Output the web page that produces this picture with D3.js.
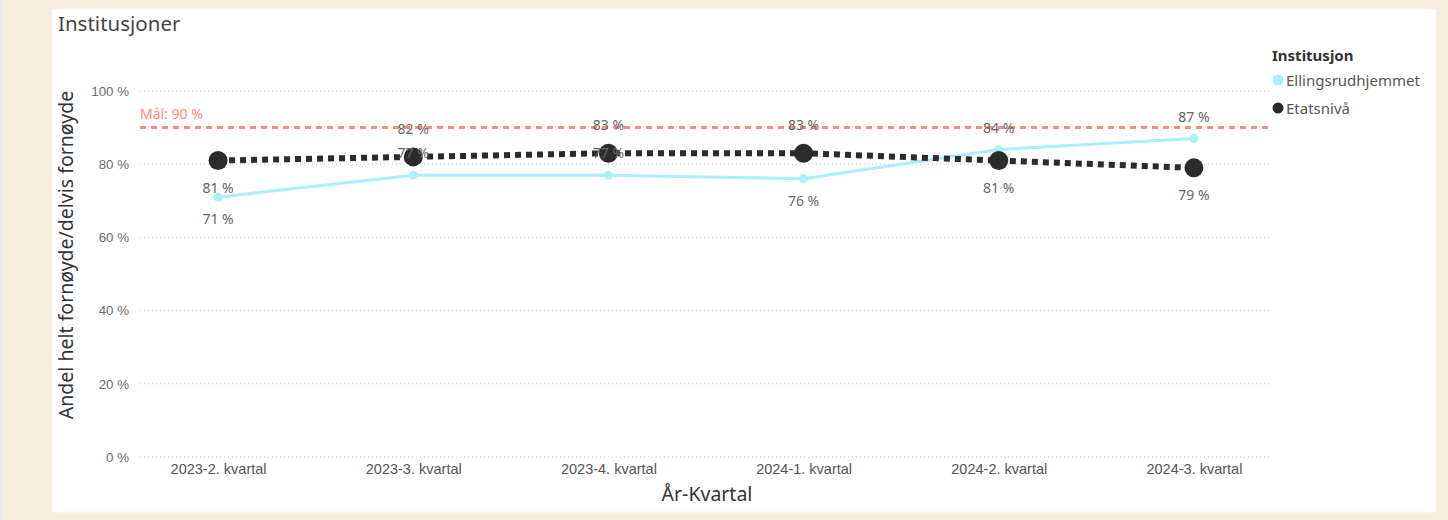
<!DOCTYPE html>
<html>
<head>
<meta charset="utf-8">
<script src="https://cdn.jsdelivr.net/npm/d3@7/dist/d3.min.js"></script>
<style>
  html, body { margin: 0; padding: 0; background: #f6eedc; }
  svg { display: block; font-family: "Segoe UI", "Noto Sans", sans-serif; }
</style>
</head>
<body>
<div id="chart"></div>
<script>
// data
const quarters = ['2023-2. kvartal', '2023-3. kvartal', '2023-4. kvartal', '2024-1. kvartal', '2024-2. kvartal', '2024-3. kvartal'];
const ellingsrud = [71, 77, 77, 76, 84, 87];
const etatsniva = [81, 82, 83, 83, 81, 79];
const seriesNames = ['Ellingsrudhjemmet', 'Etatsnivå'];
const yTicks = [0, 20, 40, 60, 80, 100];
const goal = 90;
// label placement per point (1 = above, -1 = below)
const ellingsrudSide = [-1, 1, 1, -1, 1, 1];
const etatsSide = [-1, 1, 1, 1, -1, -1];

const W = 1448, H = 520;
const svg = d3.select('#chart').append('svg').attr('width', W).attr('height', H);

// page background + card
svg.append('rect').attr('x', 0).attr('y', 0).attr('width', W).attr('height', H).attr('fill', '#f6eedc');
svg.append('rect').attr('x', 0).attr('y', 0).attr('width', 3).attr('height', H).attr('fill', '#ebebeb');
svg.append('rect').attr('x', 52).attr('y', 9).attr('width', 1384).attr('height', 503)
  .attr('fill', '#ffffff').attr('stroke', '#faf7f0').attr('stroke-width', 1);

svg.append('text').attr('x', 58).attr('y', 31)
  .attr('font-size', 20.5).attr('fill', '#444').text('Institusjoner');

const x = d3.scalePoint().domain(quarters).range([140, 1272]).padding(0.4);
const y = d3.scaleLinear().domain([0, 100]).range([457, 91]);

// grid
svg.append('g').selectAll('line').data(yTicks).join('line')
  .attr('x1', 140).attr('x2', 1272)
  .attr('y1', d => y(d)).attr('y2', d => y(d))
  .attr('stroke', '#c8c8c8').attr('stroke-width', 1).attr('stroke-dasharray', '1,3');

// y axis
const yAxis = svg.append('g').attr('transform', 'translate(129,0)')
  .call(d3.axisLeft(y).tickValues(yTicks).tickSize(0).tickPadding(0).tickFormat(d => d + ' %'));
yAxis.select('.domain').remove();
yAxis.selectAll('text').attr('font-size', 13.3).attr('fill', '#6b6b6b').attr('font-family', null);

// x axis
const xAxis = svg.append('g').attr('transform', 'translate(0,457)')
  .call(d3.axisBottom(x).tickSize(0).tickPadding(7));
xAxis.select('.domain').remove();
xAxis.selectAll('text').attr('font-size', 14.5).attr('fill', '#555').attr('font-family', null);

// axis titles
svg.append('text').attr('transform', 'translate(73,255) rotate(-90)')
  .attr('text-anchor', 'middle').attr('font-size', 19.5).attr('fill', '#333')
  .text('Andel helt fornøyde/delvis fornøyde');
svg.append('text').attr('x', 707).attr('y', 501)
  .attr('text-anchor', 'middle').attr('font-size', 19.5).attr('fill', '#333')
  .text('År-Kvartal');

// goal line
svg.append('line').attr('x1', 140).attr('x2', 1272)
  .attr('y1', y(goal)).attr('y2', y(goal))
  .attr('stroke', '#fd8a80').attr('stroke-width', 3).attr('stroke-dasharray', '6,5');
svg.append('text').attr('x', 140).attr('y', y(goal) - 9)
  .attr('font-size', 14).attr('fill', '#fd8a80').text('Mål: ' + goal + ' %');

const line = d3.line().x((d, i) => x(quarters[i])).y(d => y(d));

// Ellingsrudhjemmet
svg.append('path').datum(ellingsrud).attr('d', line)
  .attr('fill', 'none').attr('stroke', '#a9effc').attr('stroke-width', 3);
svg.append('g').selectAll('circle').data(ellingsrud).join('circle')
  .attr('cx', (d, i) => x(quarters[i])).attr('cy', d => y(d)).attr('r', 4.5)
  .attr('fill', '#a9effc');

// Etatsnivå
svg.append('path').datum(etatsniva).attr('d', line)
  .attr('fill', 'none').attr('stroke', '#2b2b2b').attr('stroke-width', 6).attr('stroke-dasharray', '6,5');
svg.append('g').selectAll('circle').data(etatsniva).join('circle')
  .attr('cx', (d, i) => x(quarters[i])).attr('cy', d => y(d)).attr('r', 9.5)
  .attr('fill', '#2b2b2b');

// data labels
function labels(values, sides, offAbove, offBelow) {
  svg.append('g').selectAll('text').data(values).join('text')
    .attr('x', (d, i) => x(quarters[i]))
    .attr('y', (d, i) => y(d) + (sides[i] > 0 ? -offAbove : offBelow))
    .attr('text-anchor', 'middle').attr('font-size', 14).attr('fill', '#666')
    .text(d => d + ' %');
}
labels(ellingsrud, ellingsrudSide, 17, 27);
labels(etatsniva, etatsSide, 23, 32);

// legend
const legend = svg.append('g').attr('transform', 'translate(1272,0)');
legend.append('text').attr('x', 0).attr('y', 61)
  .attr('font-size', 15).attr('font-weight', 'bold').attr('fill', '#333').text('Institusjon');
const legColors = ['#a9effc', '#2b2b2b'];
seriesNames.forEach((name, i) => {
  const ly = 80 + i * 28;
  legend.append('circle').attr('cx', 6).attr('cy', ly).attr('r', 5.5).attr('fill', legColors[i]);
  legend.append('text').attr('x', 14).attr('y', ly + 5.5)
    .attr('font-size', 15).attr('fill', '#555').text(name);
});
</script>
</body>
</html>
